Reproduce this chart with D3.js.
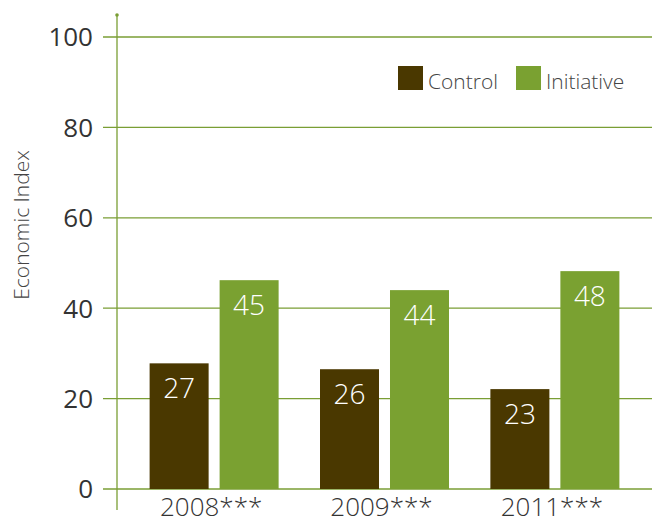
<!DOCTYPE html>
<html>
<head>
<meta charset="utf-8">
<script src="https://cdn.jsdelivr.net/npm/d3@7"></script>
<style>
  body { margin: 0; background: #fff; }
  svg { display: block; font-family: "Open Sans", sans-serif; }
</style>
</head>
<body>
<div id="chart"></div>
<script>
// data
const years = ["2008***", "2009***", "2011***"];
const seriesNames = ["Control", "Initiative"];
const controlValues = [27.8, 26.5, 22.1];
const initiativeValues = [46.2, 44.0, 48.2];
const controlLabels = ["27", "26", "23"];
const initiativeLabels = ["45", "44", "48"];
const yTicks = [0, 20, 40, 60, 80, 100];

const colors = ["#4a3800", "#7aa131"];
const gridColor = "#7a9e34";

const width = 652, height = 525;
const axisX = 117;

const svg = d3.select("#chart").append("svg")
    .attr("width", width)
    .attr("height", height);

const y = d3.scaleLinear().domain([0, 100]).range([489, 37]);

const x0 = d3.scaleBand()
    .domain(years)
    .range([axisX, width])
    .paddingInner(0)
    .paddingOuter(0.07);

const x1 = d3.scaleBand()
    .domain(seriesNames)
    .range([0, 129])
    .paddingInner(0.157);

// gridlines
svg.append("g").selectAll("line")
    .data(yTicks)
    .enter().append("line")
    .attr("x1", 103)
    .attr("x2", width)
    .attr("y1", d => y(d))
    .attr("y2", d => y(d))
    .attr("stroke", gridColor)
    .attr("stroke-width", 1.3);

// y axis line + dot
svg.append("line")
    .attr("x1", axisX).attr("x2", axisX)
    .attr("y1", 15).attr("y2", 510)
    .attr("stroke", gridColor)
    .attr("stroke-width", 1.3);
svg.append("circle")
    .attr("cx", axisX).attr("cy", 15).attr("r", 1.8)
    .attr("fill", gridColor);

// y tick labels
svg.append("g").selectAll("text")
    .data(yTicks)
    .enter().append("text")
    .attr("x", 93)
    .attr("y", d => y(d))
    .attr("dy", "0.36em")
    .attr("text-anchor", "end")
    .attr("font-size", 26)
    .attr("fill", "#333")
    .text(d => d);

// y axis title
svg.append("text")
    .attr("transform", "translate(29,225) rotate(-90)")
    .attr("text-anchor", "middle")
    .attr("font-size", 21)
    .attr("font-weight", 300)
    .attr("fill", "#444")
    .text("Economic Index");

// bars
const rows = years.map((yr, i) => ({
    year: yr,
    vals: [
        {key: "Control", value: controlValues[i], label: controlLabels[i]},
        {key: "Initiative", value: initiativeValues[i], label: initiativeLabels[i]}
    ]
}));

const groups = svg.append("g").selectAll("g")
    .data(rows)
    .enter().append("g")
    .attr("transform", d => `translate(${x0(d.year) + x0.bandwidth() / 2 - 64.5},0)`);

groups.selectAll("rect")
    .data(d => d.vals)
    .enter().append("rect")
    .attr("x", d => x1(d.key))
    .attr("y", d => y(d.value))
    .attr("width", x1.bandwidth())
    .attr("height", d => y(0) - y(d.value))
    .attr("fill", (d, i) => colors[i]);

groups.selectAll("text.val")
    .data(d => d.vals)
    .enter().append("text")
    .attr("class", "val")
    .attr("x", d => x1(d.key) + x1.bandwidth() / 2)
    .attr("y", d => y(d.value) + 35)
    .attr("text-anchor", "middle")
    .attr("font-size", 28)
    .attr("font-weight", 300)
    .attr("fill", "#fff")
    .text(d => d.label);

// x category labels
svg.append("g").selectAll("text")
    .data(years)
    .enter().append("text")
    .attr("x", d => x0(d) + x0.bandwidth() / 2 - 3)
    .attr("y", 516)
    .attr("text-anchor", "middle")
    .attr("font-size", 26)
    .attr("font-weight", 300)
    .attr("fill", "#333")
    .text(d => d);

// legend
const legend = svg.append("g").selectAll("g")
    .data(seriesNames)
    .enter().append("g")
    .attr("transform", (d, i) => `translate(${398 + i * 118},66)`);

legend.append("rect")
    .attr("width", 25)
    .attr("height", 24)
    .attr("fill", (d, i) => colors[i]);

legend.append("text")
    .attr("x", 30)
    .attr("y", 23)
    .attr("font-size", 21)
    .attr("font-weight", 300)
    .attr("fill", "#444")
    .text(d => d);
</script>
</body>
</html>
